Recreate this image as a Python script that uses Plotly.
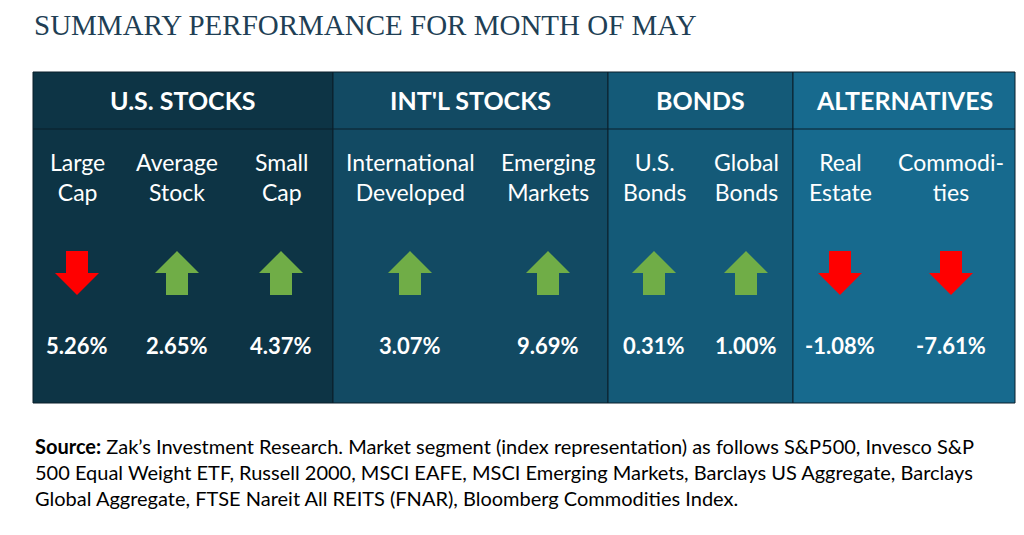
import plotly.graph_objects as go

groups = ["U.S. STOCKS", "INT'L STOCKS", "BONDS", "ALTERNATIVES"]
group_edges = [33, 333, 608, 793, 1015]
group_colors = ["#0d3445", "#124a63", "#145a78", "#176a8e"]

labels = ["Large<br>Cap", "Average<br>Stock", "Small<br>Cap", "International<br>Developed",
          "Emerging<br>Markets", "U.S.<br>Bonds", "Global<br>Bonds", "Real<br>Estate", "Commodi-<br>ties"]
label_x = [77, 177, 281, 410, 548, 654, 746, 840, 951]
values = ["5.26%", "2.65%", "4.37%", "3.07%", "9.69%", "0.31%", "1.00%", "-1.08%", "-7.61%"]
direction = ["down", "up", "up", "up", "up", "up", "up", "down", "down"]

OFF = 8  # page body margin in the browser
fig = go.Figure()

# panel backgrounds
for i, g in enumerate(groups):
    x0, x1 = group_edges[i], group_edges[i + 1]
    fig.add_shape(type="rect", x0=x0, x1=x1, y0=72, y1=403, fillcolor=group_colors[i],
                  line=dict(color="#0a1f2a", width=1), layer="below")
    fig.add_shape(type="line", x0=x0, x1=x1, y0=129, y1=129, line=dict(color="#0a1f2a", width=1))
    fig.add_annotation(x=(x0 + x1) / 2, y=100, text="<b>" + g + "</b>", showarrow=False,
                       font=dict(family="Lato", size=25, color="white"))

for x, lab, val in zip(label_x, labels, values):
    fig.add_annotation(x=x, y=177, text=lab, showarrow=False,
                       font=dict(family="Lato", size=23, color="white"))
    fig.add_annotation(x=x, y=345, text="<b>" + val + "</b>", showarrow=False,
                       font=dict(family="Lato", size=22, color="white"))

# block arrows as filled polygons around each column centre
hw, sw, hh, cy = 22, 11, 22, 273
for x, d in zip(label_x, direction):
    px = [x, x + hw, x + sw, x + sw, x - sw, x - sw, x - hw, x]
    if d == "up":
        py = [cy - hh, cy, cy, cy + hh, cy + hh, cy, cy, cy - hh]
        col = "#70ad47"
    else:
        py = [cy + hh, cy, cy, cy - hh, cy - hh, cy, cy, cy + hh]
        col = "#ff0000"
    fig.add_trace(go.Scatter(x=px, y=py, mode="lines", fill="toself", fillcolor=col,
                             line=dict(width=0, color=col), hoverinfo="skip"))

fig.add_annotation(x=33, y=OFF, xanchor="left", yanchor="top", text="SUMMARY PERFORMANCE FOR MONTH OF MAY",
                   showarrow=False, borderpad=0,
                   font=dict(family="Liberation Serif", size=29, color="#1f3f55"))

source = ("<b>Source:</b> Zak’s Investment Research. Market segment (index representation) as follows S&P500, Invesco S&P<br>"
          "500 Equal Weight ETF, Russell 2000, MSCI EAFE, MSCI Emerging Markets, Barclays US Aggregate, Barclays<br>"
          "Global Aggregate, FTSE Nareit All REITS (FNAR), Bloomberg Commodities Index.")
fig.add_annotation(x=33, y=472, xanchor="left", align="left", text=source, showarrow=False,
                   font=dict(family="Lato", size=20, color="black"))

fig.update_layout(width=1024, height=535, margin=dict(l=0, r=0, t=0, b=0), showlegend=False,
                  plot_bgcolor="white", paper_bgcolor="white",
                  xaxis=dict(range=[OFF, 1024 + OFF], visible=False, fixedrange=True),
                  yaxis=dict(range=[535 + OFF, OFF], visible=False, fixedrange=True))
fig.write_html("out.html")
